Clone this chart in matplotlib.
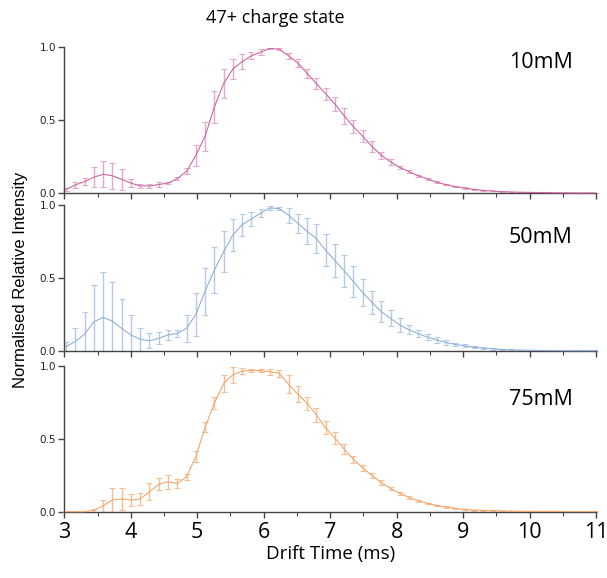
import numpy as np
import matplotlib
matplotlib.use("Agg")
import matplotlib.pyplot as plt
from matplotlib.ticker import MultipleLocator

# ---- data ----
t_start = 3.026
t_step = 0.1395
labels = ["10mM", "50mM", "75mM"]

y10 = [0.027, 0.057, 0.08, 0.11, 0.13, 0.12, 0.095, 0.07, 0.05, 0.05,
       0.06, 0.07, 0.10, 0.15, 0.26, 0.39, 0.59, 0.75, 0.85, 0.90,
       0.94, 0.965, 0.99, 0.985, 0.94, 0.89, 0.82, 0.75, 0.68, 0.61,
       0.53, 0.455, 0.39, 0.32, 0.26, 0.215, 0.177, 0.148, 0.12, 0.098,
       0.075, 0.059, 0.045, 0.036, 0.027, 0.02, 0.016, 0.011, 0.009, 0.007,
       0.006, 0.005, 0.004, 0.003, 0.003, 0.002, 0.002, 0.002]
e10 = [0.01, 0.02, 0.025, 0.07, 0.09, 0.09, 0.07, 0.03, 0.015, 0.015,
       0.015, 0.008, 0.01, 0.02, 0.07, 0.1, 0.11, 0.1, 0.07, 0.05,
       0.025, 0.02, 0.005, 0.008, 0.02, 0.03, 0.03, 0.035, 0.04, 0.05,
       0.055, 0.045, 0.04, 0.035, 0.025, 0.02, 0.012, 0.01, 0.008, 0.008,
       0.006, 0.005, 0.004, 0.004, 0.003, 0.003, 0.003, 0.002, 0.002, 0.002,
       0.002, 0.002, 0.002, 0.002, 0.002, 0.002, 0.002, 0.002]

y50 = [0.03, 0.065, 0.115, 0.20, 0.23, 0.205, 0.155, 0.11, 0.08, 0.07,
       0.087, 0.11, 0.12, 0.155, 0.25, 0.41, 0.555, 0.68, 0.795, 0.865,
       0.905, 0.945, 0.98, 0.975, 0.93, 0.875, 0.82, 0.77, 0.69, 0.62,
       0.55, 0.475, 0.40, 0.333, 0.27, 0.224, 0.178, 0.145, 0.118, 0.095,
       0.075, 0.058, 0.045, 0.035, 0.026, 0.02, 0.015, 0.011, 0.008, 0.006,
       0.005, 0.004, 0.003, 0.003, 0.002, 0.002, 0.002, 0.002]
e50 = [0.03, 0.09, 0.15, 0.25, 0.31, 0.27, 0.2, 0.14, 0.08, 0.05,
       0.04, 0.035, 0.025, 0.095, 0.15, 0.16, 0.16, 0.14, 0.11, 0.075,
       0.048, 0.03, 0.012, 0.012, 0.05, 0.065, 0.09, 0.1, 0.11, 0.11,
       0.11, 0.105, 0.09, 0.08, 0.07, 0.055, 0.045, 0.03, 0.025, 0.02,
       0.018, 0.015, 0.012, 0.01, 0.008, 0.007, 0.006, 0.005, 0.004, 0.004,
       0.003, 0.003, 0.003, 0.002, 0.002, 0.002, 0.002, 0.002]

y75 = [0.0, 0.0, 0.0, 0.01, 0.04, 0.08, 0.088, 0.08, 0.088, 0.137,
       0.188, 0.205, 0.195, 0.24, 0.378, 0.58, 0.745, 0.88, 0.94, 0.965,
       0.97, 0.968, 0.96, 0.95, 0.875, 0.805, 0.745, 0.665, 0.575, 0.505,
       0.43, 0.36, 0.30, 0.248, 0.20, 0.16, 0.126, 0.098, 0.075, 0.057,
       0.043, 0.032, 0.023, 0.016, 0.011, 0.009, 0.007, 0.005, 0.004, 0.003,
       0.003, 0.002, 0.002, 0.002, 0.001, 0.001, 0.001, 0.001]
e75 = [0.0, 0.0, 0.002, 0.01, 0.04, 0.085, 0.075, 0.04, 0.04, 0.06,
       0.04, 0.05, 0.03, 0.02, 0.04, 0.035, 0.04, 0.06, 0.055, 0.02,
       0.01, 0.008, 0.02, 0.025, 0.06, 0.055, 0.045, 0.05, 0.045, 0.04,
       0.035, 0.025, 0.02, 0.018, 0.015, 0.012, 0.01, 0.008, 0.007, 0.006,
       0.005, 0.005, 0.004, 0.004, 0.003, 0.003, 0.003, 0.002, 0.002, 0.002,
       0.002, 0.002, 0.002, 0.002, 0.002, 0.002, 0.002, 0.002]

series = [y10, y50, y75]
errors = [e10, e50, e75]
line_colors = ["#cc67a2", "#8fb1d8", "#f1a86c"]
err_colors = ["#e4a8cb", "#b3cbe7", "#f5bf94"]
label_y = [0.894, 0.777, 0.767]

fig = plt.figure(figsize=(6.07, 5.78), dpi=100)
W, H = 607, 578
left = 64.3 / W
width = (596 - 64.3) / W
panels_px = [(47, 193.3), (205, 351), (366, 511.7)]

axes = []
for i, (ytop, ybot) in enumerate(panels_px):
    ax = fig.add_axes([left, 1 - ybot / H, width, (ybot - ytop) / H])
    y = np.array(series[i])
    e = np.array(errors[i])
    t = t_start + t_step * np.arange(len(y))
    lo = np.minimum(e, y)
    ax.errorbar(t, y, yerr=[lo, e], fmt='none', ecolor=err_colors[i],
                elinewidth=1.0, capsize=2, capthick=0.8, zorder=2)
    ax.plot(t, y, color=line_colors[i], lw=0.8, zorder=3)
    ax.set_xlim(3, 11)
    ax.set_ylim(0, 1.0)
    for s in ["top", "right"]:
        ax.spines[s].set_visible(False)
    for s in ["left", "bottom"]:
        ax.spines[s].set_color("#444444")
        ax.spines[s].set_linewidth(1.0)
    ax.xaxis.set_major_locator(MultipleLocator(1))
    ax.xaxis.set_minor_locator(MultipleLocator(0.5))
    ax.set_yticks([0.0, 0.5, 1.0])
    ax.set_yticklabels(["0.0", "0.5", "1.0"], fontsize=7.5,
                       family="DejaVu Sans", color="#222222")
    ax.tick_params(axis="both", which="major", direction="out", length=4,
                   width=1, color="#444444")
    ax.tick_params(axis="x", which="minor", direction="out", length=3,
                   width=0.8, color="#444444")
    ax.tick_params(axis="y", pad=2)
    if i < 2:
        ax.tick_params(axis="x", labelbottom=False)
    else:
        ax.set_xticks(range(3, 12))
        ax.set_xticklabels([str(v) for v in range(3, 12)], fontsize=15.5,
                           family="Open Sans")
        ax.set_xlabel("Drift Time (ms)", fontsize=13.5, family="Open Sans",
                      labelpad=1)
    ax.text(10.17, label_y[i], labels[i], fontsize=15.5, family="Open Sans",
            ha="center", va="center")
    for ln in ax.get_children():
        try:
            ln.set_clip_on(False)
        except Exception:
            pass
    axes.append(ax)

fig.text(275 / W, 1 - 18 / H, "47+ charge state", fontsize=13,
         family="Open Sans", ha="center", va="center")
fig.text(21 / W, 1 - 280 / H, "Normalised Relative Intensity", fontsize=12,
         family="Liberation Sans", rotation=90, ha="center", va="center")

fig.savefig("out.png", dpi=100)
